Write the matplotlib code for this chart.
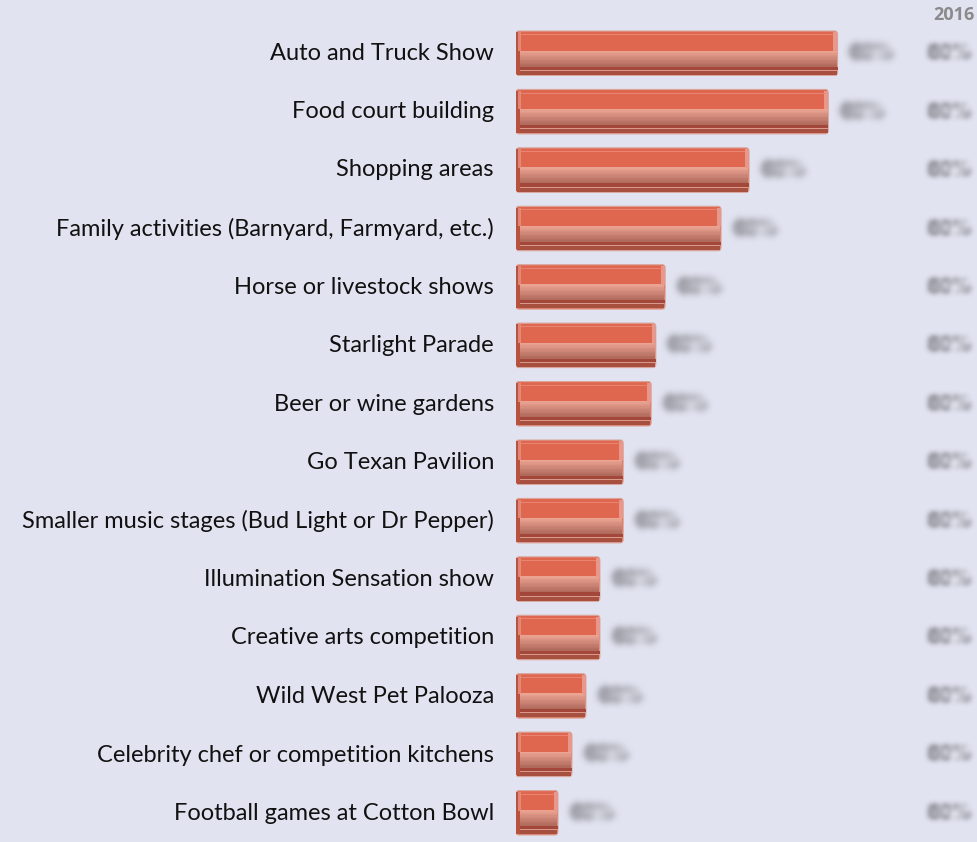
import numpy as np
import matplotlib
matplotlib.use('Agg')
import matplotlib.pyplot as plt
from matplotlib.patches import Rectangle, FancyBboxPatch
from matplotlib.colors import to_rgb
from matplotlib.transforms import blended_transform_factory

categories = [
    'Auto and Truck Show',
    'Food court building',
    'Shopping areas',
    'Family activities (Barnyard, Farmyard, etc.)',
    'Horse or livestock shows',
    'Starlight Parade',
    'Beer or wine gardens',
    'Go Texan Pavilion',
    'Smaller music stages (Bud Light or Dr Pepper)',
    'Illumination Sensation show',
    'Creative arts competition',
    'Wild West Pet Palooza',
    'Celebrity chef or competition kitchens',
    'Football games at Cotton Bowl',
]
values = [69, 67, 50, 44, 32, 30, 29, 23, 23, 18, 18, 15, 12, 9]
value_labels = ['80%'] * len(categories)
year_labels = ['80%'] * len(categories)
year_title = '2016'

BG = '#e1e3f0'
W, H = 977, 842
fig = plt.figure(figsize=(W / 100, H / 100), dpi=100, facecolor=BG)

# axes: bars start at x=516 px, rows 58.5 px apart starting at y=53 px
left_px, top_px = 516, 24
ax = fig.add_axes([left_px / W, 0, (W - left_px) / W, (H - top_px) / H])
ax.set_facecolor(BG)
px_per_pct = 4.66
ax.set_xlim(0, (W - left_px) / px_per_pct)
ax.set_ylim(len(categories) - 0.5, -0.5)
ax.axis('off')


def gauss_blur(sigma):
    def _filter(im, dpi):
        pad = int(3 * sigma) + 2
        a = np.pad(im, ((pad, pad), (pad, pad), (0, 0)))
        r = np.arange(-pad, pad + 1)
        k = np.exp(-0.5 * (r / sigma) ** 2)
        k /= k.sum()
        for axis in (0, 1):
            a = np.apply_along_axis(lambda v: np.convolve(v, k, mode='same'), axis, a)
        return a, -pad, -pad
    return _filter


def mix(c1, c2, t):
    c1, c2 = np.array(to_rgb(c1)), np.array(to_rgb(c2))
    return tuple(c1 + (c2 - c1) * t)


h = 0.76
for i, v in enumerate(values):
    y0 = i - h / 2
    edge = 0.7  # width of the bevel strips, in %
    # base body
    ax.add_patch(FancyBboxPatch((0, y0), v, h, boxstyle='round,pad=0,rounding_size=0.6',
                                mutation_aspect=0.1, fc='#e0674f', ec='#d9a59b', lw=0.8, zorder=2))
    # front face gradient (lower part of the bar)
    f0, f1 = 0.44, 0.80
    n = 12
    for k in range(n):
        t = k / (n - 1)
        yy = y0 + h * (f0 + (f1 - f0) * k / n)
        ax.add_patch(Rectangle((0.15, yy), v - 0.3, h * (f1 - f0) / n + 0.002,
                               fc=mix('#eba392', '#b06a5c', t), ec='none', zorder=3))
    ax.add_patch(Rectangle((0, y0 + h * 0.80), v, h * 0.07, fc='#a2473a', ec='none', zorder=3))
    ax.add_patch(Rectangle((0.15, y0 + h * 0.87), v - 0.3, h * 0.025, fc='#d99a8c', ec='none', zorder=3))
    ax.add_patch(Rectangle((0.15, y0 + h * 0.895), v - 0.3, h * 0.09, fc='#a8503f', ec='none', zorder=3))
    # side bevels, running down the full height
    ax.add_patch(Rectangle((0.1, y0 + h * 0.03), edge, h * 0.94, fc='#b9513f', ec='none', zorder=4))
    ax.add_patch(Rectangle((0.1 + edge * 0.5, y0 + h * 0.03), edge * 0.8, h * 0.42,
                           fc='#e59484', ec='none', alpha=0.8, zorder=4))
    ax.add_patch(Rectangle((v - edge * 1.3, y0 + h * 0.03), edge * 1.2, h * 0.42,
                           fc='#e8988a', ec='none', zorder=4))
    # inner highlight on the top face
    ax.plot([edge * 1.6, v - edge * 1.4], [y0 + h * 0.07] * 2, color='#e98571', lw=0.7, zorder=4)

    t = ax.annotate(value_labels[i], (v, i), xytext=(9, 0), textcoords='offset points',
                    ha='left', va='center', fontsize=13, fontweight='bold',
                    color='#7a7a82', zorder=5)
    t.set_agg_filter(gauss_blur(2.8))
    t2 = ax.text(928 / W, i, year_labels[i],
                 transform=blended_transform_factory(fig.transFigure, ax.transData),
                 ha='left', va='center', fontsize=13, fontweight='bold', color='#7a7a82', zorder=5)
    t2.set_agg_filter(gauss_blur(2.8))

    fig.text(494 / W, 1 - (53 + 58.5 * i) / H, categories[i], ha='right', va='center',
             fontsize=17, family='Lato', color='#111111')

fig.text(975 / W, 1 - 15 / H, year_title, ha='right', va='center', fontsize=13,
         fontweight='bold', family='Open Sans', color='#8a8a8a')

fig.savefig('out.png', dpi=100, facecolor=BG)
